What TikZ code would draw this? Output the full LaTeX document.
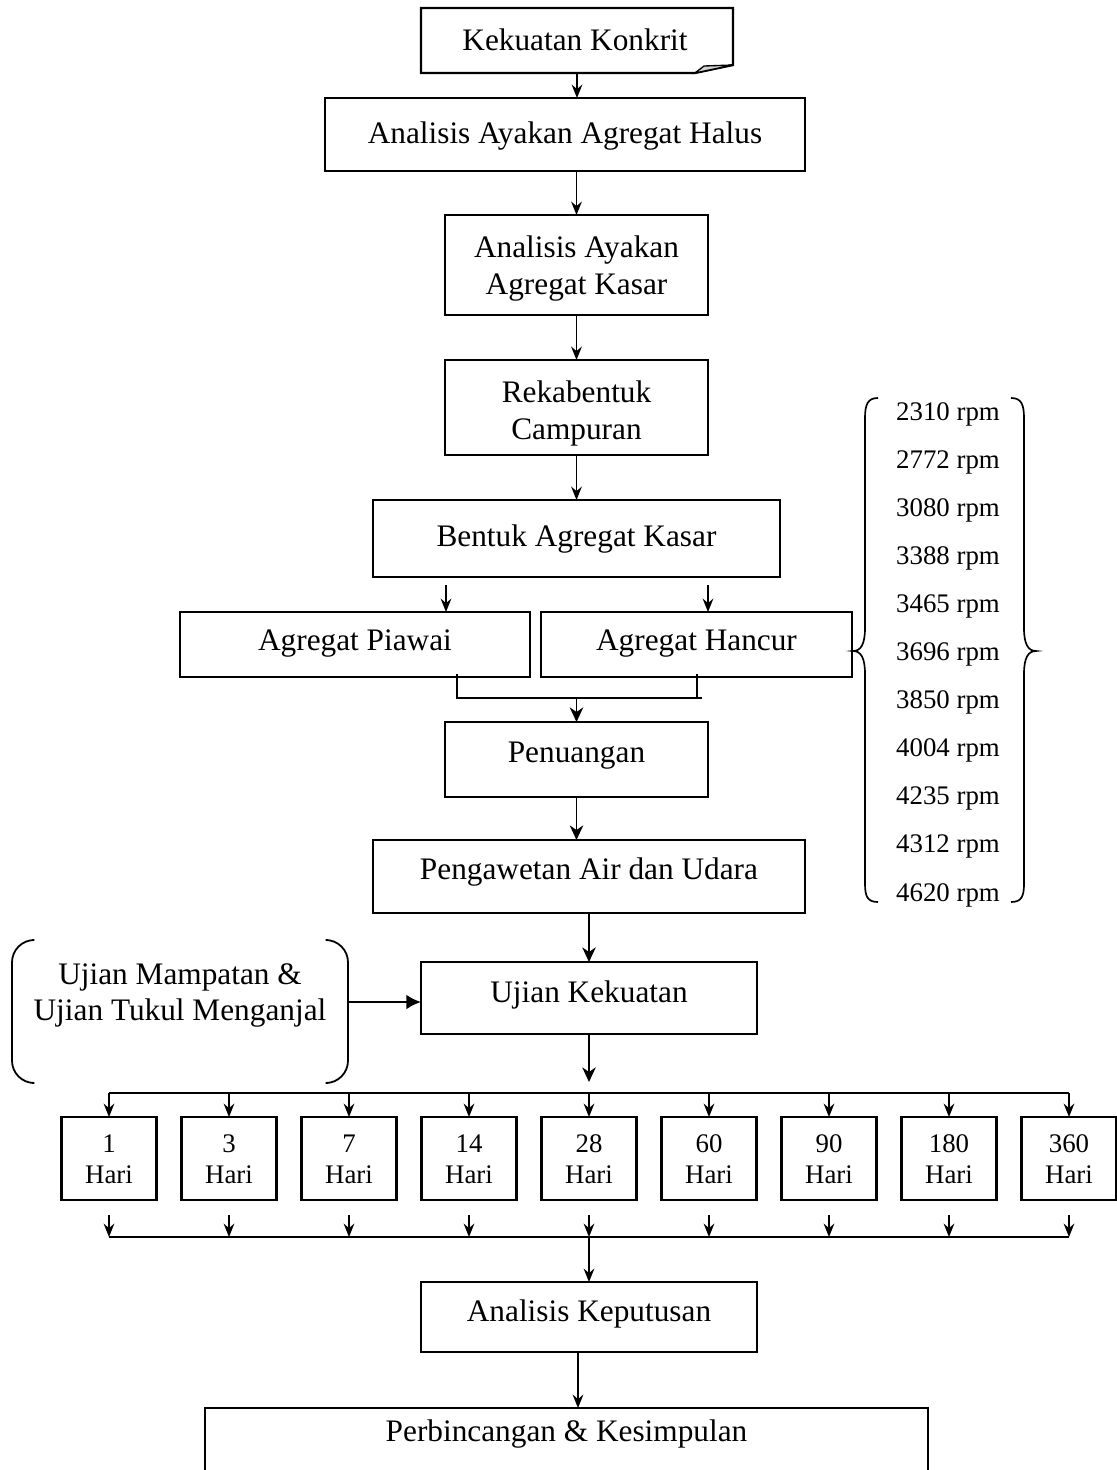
\documentclass[tikz,border=0pt]{standalone}
\usepackage{fontspec}
\setmainfont{Liberation Serif}
\usetikzlibrary{arrows.meta,calc}
\tikzset{
  bx/.style 2 args={draw, line width=1pt, minimum width=#1*0.4473pt, minimum height=#2*0.4473pt, inner sep=0pt, outer sep=0pt},
  lbl/.style={font=\fontsize{14}{16}\selectfont, inner sep=0pt, anchor=base},
  sml/.style={font=\fontsize{12}{14}\selectfont, inner sep=0pt, anchor=base},
  conn/.style={line width=0.7pt},
  arr/.style={conn, -{Stealth[length=6pt,width=4.8pt,inset=2pt]}},
  arrb/.style={line width=0.85pt, -{Stealth[length=6.5pt,width=6pt,inset=2pt]}},
  larr/.style={line width=0.85pt, -{Latex[length=6.5pt,width=6.5pt]}},
  brc/.style={line width=0.75pt},
}
\begin{document}
\begin{tikzpicture}[x=0.4473pt,y=-0.4473pt]
\useasboundingbox (0,0) rectangle (1117,1470);
\clip (0,0) rectangle (1117,1470);

% top box with folded corner
\node[minimum width=312*0.4473pt, minimum height=65*0.4473pt, inner sep=0pt] (kk) at (577,40.5) {};
\draw[line width=1pt] (421,8) -- (733,8) -- (733,65) -- (695,73) -- (421,73) -- cycle;
\filldraw[fill=gray!35, line width=0.6pt] (695,73) -- (704,66) -- (733,65) -- cycle;
\node[lbl] (kkt) at (575,50) {Kekuatan Konkrit};

% main boxes
\node[bx={480}{73}] (halus) at (565,134.5) {};
\node[lbl] (halust) at (565,143) {Analisis Ayakan Agregat Halus};

\node[bx={263}{100}] (kasar) at (576.5,265) {};
\node[lbl] (kasart1) at (576.5,257) {Analisis Ayakan};
\node[lbl] (kasart2) at (576.5,294) {Agregat Kasar};

\node[bx={263}{95}] (reka) at (576.5,407.5) {};
\node[lbl] (rekat1) at (576.5,402) {Rekabentuk};
\node[lbl] (rekat2) at (576.5,439) {Campuran};

\node[bx={407}{77}] (bentuk) at (576.5,538.5) {};
\node[lbl] (bentukt) at (576.5,546) {Bentuk Agregat Kasar};

\node[bx={350}{65}] (piawai) at (355,644.5) {};
\node[lbl] (piawait) at (355,650) {Agregat Piawai};

\node[bx={311}{65}] (hancur) at (696.5,644.5) {};
\node[lbl] (hancurt) at (696.5,650) {Agregat Hancur};

\node[bx={263}{75}] (penu) at (576.5,759.5) {};
\node[lbl] (penut) at (576.5,762) {Penuangan};

\node[bx={432}{73}] (peng) at (589,876.5) {};
\node[lbl] (pengt) at (589,879) {Pengawetan Air dan Udara};

\node[bx={336}{72}] (ujian) at (589,998) {};
\node[lbl] (ujiant) at (589,1002) {Ujian Kekuatan};

% bracket node
\draw[line width=0.8pt, rounded corners=10pt] (32,940) -- (12,940) -- (12,1083) -- (32,1083);
\draw[line width=0.8pt, rounded corners=10pt] (328,940) -- (348,940) -- (348,1083) -- (328,1083);
\node[lbl] (uj1) at (180,984) {Ujian Mampatan \&};
\node[lbl] (uj2) at (180,1020) {Ujian Tukul Menganjal};

% day boxes
\foreach \n [count=\i] in {1,3,7,14,28,60,90,180,360} {
  \node[bx={95}{83}] (d\i) at ({109+120*(\i-1)},1158.5) {};
  \node[sml] (dn\i) at (d\i.center |- 0,1152) {\n};
  \node[sml] (dh\i) at (d\i.center |- 0,1183) {Hari};
}

\node[bx={336}{70}] (kep) at (589,1317) {};
\node[lbl] (kept) at (589,1321) {Analisis Keputusan};

\node[bx={723}{82}] (perb) at (566.5,1449) {};
\node[lbl] (perbt) at (566.5,1441) {Perbincangan \& Kesimpulan};

% rpm list with braces
\foreach \r [count=\i from 0] in {2310,2772,3080,3388,3465,3696,3850,4004,4235,4312,4620} {
  \node[sml] (rpm\i) at (948,{420+48.1*\i}) {\r{} rpm};
}
\draw[brc] (878,398) .. controls (868,398) and (865,404) .. (865,418) -- (865,628) .. controls (865,644) and (861,651) .. (853,651) .. controls (861,651) and (865,658) .. (865,674) -- (865,884) .. controls (865,897) and (868,902) .. (878,902);
\draw[brc] (1011,398) .. controls (1021,398) and (1024,404) .. (1024,418) -- (1024,628) .. controls (1024,644) and (1028,651) .. (1036,651) .. controls (1028,651) and (1024,658) .. (1024,674) -- (1024,884) .. controls (1024,897) and (1021,902) .. (1011,902);

% connectors
\draw[arr] (kk.south) -- (kk.south |- halus.north);
\draw[arr] (kasar.north |- halus.south) -- (kasar.north);
\draw[arr] (kasar.south) -- (reka.north);
\draw[arr] (reka.south) -- (bentuk.north);
\coordinate (bp) at (446,585);
\coordinate (bh) at (708,585);
\draw[arr] (bp) -- (bp |- piawai.north);
\draw[arr] (bh) -- (bh |- hancur.north);
\coordinate (mp) at (457,674);
\coordinate (mh) at (697,674);
\coordinate (mj) at (702,698);
\draw[conn] (mp) -- (mp |- mj) -- (mj);
\draw[conn] (mh) -- (mh |- mj);
\draw[arrb] (penu.north |- mj) -- (penu.north);
\draw[arrb] (penu.south) -- (penu.south |- peng.north);
\draw[arrb] (peng.south) -- (ujian.north);
\coordinate (brk) at (348,1002);
\draw[larr] (brk) -- (brk -| ujian.west);
\coordinate (ud) at (589,1082);
\draw[arrb] (ujian.south) -- (ud);
\coordinate (tl) at (0,1093);
\coordinate (ba) at (0,1215);
\coordinate (bl) at (0,1237);
\draw[conn] (d1.north |- tl) -- (d9.north |- tl);
\draw[conn] (d1.south |- bl) -- (d9.south |- bl);
\foreach \i in {1,...,9} {
  \draw[arr] (d\i.north |- tl) -- (d\i.north);
  \draw[arr] (d\i.south |- ba) -- (d\i.south |- bl);
}
\draw[arr] (kep.north |- bl) -- (kep.north);
\coordinate (kp) at (578,1352);
\draw[arr] (kp) -- (kp |- perb.north);
\end{tikzpicture}
\end{document}
